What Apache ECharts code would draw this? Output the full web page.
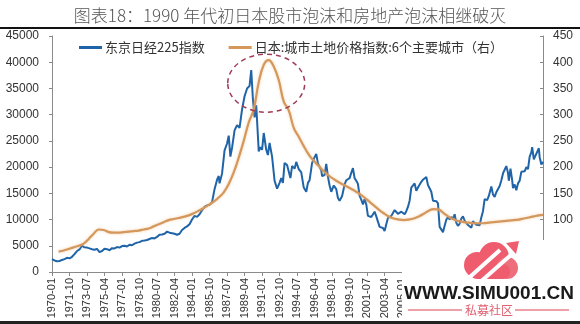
<!DOCTYPE html>
<html>
<head>
<meta charset="utf-8">
<script src="https://cdn.jsdelivr.net/npm/echarts@6/dist/echarts.min.js"></script>
<style>html,body{margin:0;padding:0;background:#fff;}#c{width:580px;height:324px;}</style>
</head>
<body>
<div id="c"></div>
<script>
const titleText = '图表18：1990 年代初日本股市泡沫和房地产泡沫相继破灭';
const seriesNames = ['东京日经225指数', '日本:城市土地价格指数:6个主要城市（右）'];
const leftTicks = { min: 0, max: 45000, interval: 5000 };
const rightTicks = { min: 0, max: 450, interval: 50, firstLabel: 100 };
const firstMonth = '1970-01', lastMonth = '2019-02';

const nikkeiDates = [
'1970-01','1970-04','1970-07','1970-10',
'1971-01','1971-04','1971-07','1971-10',
'1972-01','1972-04','1972-07','1972-10',
'1973-01','1973-04','1973-07','1973-10',
'1974-01','1974-04','1974-07','1974-10',
'1975-01','1975-04','1975-07','1975-10',
'1976-01','1976-04','1976-07','1976-10',
'1977-01','1977-04','1977-07','1977-10',
'1978-01','1978-04','1978-07','1978-10',
'1979-01','1979-04','1979-07','1979-10',
'1980-01','1980-04','1980-07','1980-10',
'1981-01','1981-04','1981-07','1981-10',
'1982-01','1982-04','1982-07','1982-10',
'1983-01','1983-04','1983-07','1983-10',
'1984-01','1984-04','1984-07','1984-10',
'1985-01','1985-04','1985-07','1985-10',
'1986-01','1986-04','1986-07','1986-09','1986-10',
'1987-01','1987-04','1987-07','1987-09','1987-11',
'1988-01','1988-04','1988-07','1988-10',
'1989-01','1989-04','1989-07','1989-10','1989-12',
'1990-02','1990-04','1990-06','1990-09','1990-11',
'1991-01','1991-03','1991-06','1991-08','1991-10',
'1992-01','1992-04','1992-07','1992-10','1992-12',
'1993-02','1993-04','1993-07','1993-09','1993-11',
'1994-01','1994-04','1994-06','1994-09','1994-12',
'1995-03','1995-06','1995-08','1995-10',
'1996-01','1996-04','1996-06','1996-08','1996-10','1996-12',
'1997-01','1997-04','1997-06','1997-08','1997-10','1997-12',
'1998-03','1998-06','1998-08','1998-10',
'1999-01','1999-04','1999-06','1999-08','1999-10','1999-12',
'2000-02','2000-04','2000-06','2000-08','2000-10','2000-12',
'2001-02','2001-04','2001-06','2001-08','2001-10','2001-12',
'2002-02','2002-04','2002-06','2002-08','2002-10','2002-12',
'2003-02','2003-04','2003-06','2003-08','2003-10','2003-12',
'2004-02','2004-04','2004-06','2004-08','2004-10','2004-12',
'2005-02','2005-04','2005-06','2005-08','2005-10','2005-12',
'2006-02','2006-04','2006-06','2006-08','2006-10','2006-12',
'2007-02','2007-04','2007-06','2007-08','2007-10','2007-12',
'2008-02','2008-04','2008-06','2008-08','2008-10','2008-12',
'2009-02','2009-04','2009-06','2009-08','2009-10','2009-12',
'2010-02','2010-04','2010-06','2010-08','2010-10','2010-12',
'2011-02','2011-04','2011-06','2011-08','2011-10','2011-12',
'2012-02','2012-04','2012-06','2012-08','2012-10','2012-12',
'2013-02','2013-04','2013-05','2013-07','2013-09','2013-12',
'2014-02','2014-04','2014-06','2014-08','2014-10','2014-12',
'2015-02','2015-04','2015-06','2015-08','2015-09','2015-11',
'2016-01','2016-02','2016-04','2016-06','2016-08','2016-10','2016-12',
'2017-02','2017-04','2017-06','2017-08','2017-10','2017-12',
'2018-01','2018-03','2018-05','2018-07','2018-09','2018-10','2018-12',
'2019-02'];
const nikkeiValues = [
2450,2200,2050,2100,
2300,2450,2700,2600,
2900,3400,4000,4300,
5000,4700,4650,4500,
4350,4250,4400,3800,
4000,4450,4350,4150,
4550,4500,4750,4650,
4950,5000,4850,5200,
5100,5400,5600,5700,
5950,6000,6100,6300,
6500,6400,6700,7100,
7150,7300,7700,7500,
7400,7300,7100,7300,
8000,8400,8700,9100,
10000,10700,10500,11000,
11800,12400,12700,12800,
13300,15800,17600,18300,16900,
18800,23200,24500,26000,22000,
23700,27000,28000,27500,
31000,33500,35000,35500,38500,
33000,29500,31800,23000,23800,
23300,26500,23300,22300,24600,
22000,17400,15900,17000,17900,
17000,20800,20400,20100,17900,
20200,19700,21000,19600,19000,
16100,15300,17000,17500,
20800,21900,22500,20700,20800,19400,
18300,18500,20600,18200,16500,15300,
16500,15800,14100,13600,
14500,16700,17500,17400,17900,18900,
19800,17900,17400,16800,14500,13800,
12900,13900,12900,10700,10400,10500,
10600,11500,10600,9600,8600,8600,
8400,7800,9100,10300,10600,10700,
11000,11800,11900,11100,10800,11500,
11700,11000,11600,12400,13600,16100,
16200,16900,15500,16100,16400,17200,
17600,17400,18100,16600,16700,15300,
13600,13800,13500,13100,8600,8900,
7600,8800,9950,10500,10000,10500,
10100,11000,9400,8800,9200,10200,
10600,9800,9800,8950,8990,8450,
9700,9500,9000,8800,8900,10400,
11600,13900,13800,13700,14500,16300,
14800,14300,15200,15400,16400,17450,
18800,19500,20200,18900,17400,19700,
17500,16000,16700,15600,16900,17400,19100,
19100,19200,20000,19600,22000,22800,
23800,21500,22200,22500,23600,21900,20500,
21000];

const landDates = [
'1970-09','1971-03','1971-09','1972-03','1972-09','1973-03','1973-09','1974-03','1974-09',
'1975-03','1975-09','1976-03','1976-09','1977-03','1977-09','1978-03','1978-09','1979-03','1979-09',
'1980-03','1980-09','1981-03','1981-09','1982-03','1982-09','1983-03','1983-09','1984-03','1984-09',
'1985-03','1985-09','1986-03','1986-09','1987-03','1987-09','1988-03','1988-09','1989-03','1989-09',
'1990-03','1990-09','1991-03','1991-09','1992-03','1992-09','1993-03','1993-09','1994-03','1994-09',
'1995-03','1995-09','1996-03','1996-09','1997-03','1997-09','1998-03','1998-09','1999-03','1999-09',
'2000-03','2000-09','2001-03','2001-09','2002-03','2002-09','2003-03','2003-09','2004-03','2004-09',
'2005-03','2005-09','2006-03','2006-09','2007-03','2007-09','2008-03','2008-09','2009-03','2009-09',
'2010-03','2010-09','2011-03','2011-09','2012-03','2012-09','2013-03','2013-09','2014-03','2014-09',
'2015-03','2015-09','2016-03','2016-09','2017-03','2017-09','2018-03','2018-09','2019-02'];
const landValues = [
39,41,44,47,50,54,63,73,81,
80,76,75,75,76,77,78,79,81,83,
87,91,95,99,101,103,105,108,112,117,
122,128,134,142,152,168,190,218,250,285,
310,362,395,404,392,366,325,308,275,258,
240,224,212,202,192,184,177,171,166,161,
156,150,143,135,127,119,112,106,102,100,
99,100,102,106,111,117,120,119,112,105,
100,97,95,94,93,93,93,94,95,96,
97,98,99,100,102,104,106,108,109];

// month categories (axis labels) from firstMonth to lastMonth
const months = [];
(function () {
  let y = +firstMonth.slice(0, 4), m = +firstMonth.slice(5);
  while (true) {
    const s = y + '-' + String(m).padStart(2, '0');
    months.push(s);
    if (s === lastMonth) break;
    m++; if (m > 12) { m = 1; y++; }
  }
})();

const FONT = 'Liberation Sans, Arial, sans-serif';
const CJK = 'Noto Sans CJK SC, sans-serif';
const axisGray = '#8a8a8a';

const chart = echarts.init(document.getElementById('c'), null, { renderer: 'canvas' });
chart.setOption({
  animation: false,
  backgroundColor: '#fff',
  title: {
    text: titleText, left: 'center', top: 2,
    textStyle: { fontFamily: CJK, fontSize: 17, fontWeight: 300, color: '#555' }
  },
  legend: {
    top: 36, left: 74, itemGap: 24, itemWidth: 23, itemHeight: 3, icon: 'rect',
    textStyle: { fontFamily: CJK, fontSize: 13, color: '#333', padding: [0, 0, 0, -2] },
    data: seriesNames
  },
  grid: { left: 52, right: 37, top: 36, bottom: 52, containLabel: false },
  xAxis: {
    type: 'category', data: months, boundaryGap: false,
    axisLine: { lineStyle: { color: axisGray, width: 1 } },
    axisTick: { interval: 20, length: 4, lineStyle: { color: axisGray } },
    axisLabel: { interval: 20, rotate: 90, fontFamily: FONT, fontSize: 11, color: '#333', margin: 6 },
    splitLine: { show: false }
  },
  yAxis: [{
    type: 'value', min: leftTicks.min, max: leftTicks.max, interval: leftTicks.interval,
    axisLine: { show: true, lineStyle: { color: axisGray } },
    axisTick: { show: true, length: 3, lineStyle: { color: axisGray } },
    axisLabel: { fontFamily: FONT, fontSize: 12, color: '#333', margin: 13, formatter: v => String(v) },
    splitLine: { show: false }
  }, {
    type: 'value', position: 'right', min: rightTicks.min, max: rightTicks.max, interval: rightTicks.interval,
    axisLine: { show: true, lineStyle: { color: axisGray } },
    axisTick: { show: true, inside: true, length: 3, lineStyle: { color: axisGray } },
    axisLabel: {
      fontFamily: FONT, fontSize: 12, color: '#333', margin: 10,
      formatter: v => (v >= rightTicks.firstLabel ? String(v) : '')
    },
    splitLine: { show: false }
  }],
  series: [{
    name: seriesNames[0], type: 'line', yAxisIndex: 0, showSymbol: false, symbol: 'none',
    lineStyle: { color: '#1f64a8', width: 2 }, itemStyle: { color: '#1f64a8' },
    data: nikkeiDates.map((d, i) => [d, nikkeiValues[i]])
  }, {
    name: seriesNames[1], type: 'line', yAxisIndex: 1, showSymbol: false, symbol: 'none',
    smooth: 0.4,
    lineStyle: { color: '#d4975c', width: 2.2, shadowBlur: 3, shadowColor: 'rgba(235,180,120,0.6)' },
    itemStyle: { color: '#d4975c' },
    data: landDates.map((d, i) => [d, landValues[i]])
  }]
});

// annotation ellipse around the twin peaks, placed through the axes
const ctr = chart.convertToPixel({ xAxisIndex: 0, yAxisIndex: 0 }, ['1991-06', 36000]);

chart.setOption({
  graphic: [
    { type: 'rect', shape: { x: 0, y: 27, width: 580, height: 2 }, style: { fill: '#111' }, z: 10 },
    { type: 'ellipse', shape: { cx: ctr[0], cy: ctr[1], rx: 38.5, ry: 29 },
      style: { fill: 'none', stroke: '#a03a55', lineWidth: 1.5, lineDash: [5, 4] }, z: 10 },
    // watermark block
    { type: 'rect', shape: { x: 402, y: 240, width: 178, height: 82 }, style: { fill: '#fff' }, z: 20 },
    { type: 'rect', shape: { x: 0, y: 321, width: 580, height: 3 }, style: { fill: '#222' }, z: 21 },
    { type: 'circle', shape: { cx: 477, cy: 265, r: 13 }, style: { fill: '#ef5c6e' }, z: 22 },
    { type: 'circle', shape: { cx: 494, cy: 257, r: 15 }, style: { fill: '#ef5c6e' }, z: 22 },
    { type: 'circle', shape: { cx: 507, cy: 268, r: 11 }, style: { fill: '#ee6f7c' }, z: 22 },
    { type: 'rect', shape: { x: 470, y: 264, width: 40, height: 15, r: 7 }, style: { fill: '#ef5c6e' }, z: 22 },
    { type: 'line', shape: { x1: 462, y1: 284, x2: 500, y2: 250 }, style: { stroke: '#fff', lineWidth: 4 }, z: 23 },
    { type: 'line', shape: { x1: 478, y1: 284, x2: 512, y2: 254 }, style: { stroke: '#fff', lineWidth: 4 }, z: 23 },
    { type: 'polygon', shape: { points: [[506, 243], [519, 241], [516, 254]] }, style: { fill: '#ef5c6e' }, z: 23 },
    { type: 'text', x: 489, y: 294, style: { text: 'WWW.SIMU001.CN', fontFamily: FONT, fontWeight: 'bold', fontSize: 19, fill: '#1a1a1a', align: 'center', verticalAlign: 'middle' }, z: 24 },
    { type: 'line', shape: { x1: 408, y1: 310, x2: 462, y2: 310 }, style: { stroke: '#e8808d', lineWidth: 1.5 }, z: 24 },
    { type: 'line', shape: { x1: 515, y1: 310, x2: 569, y2: 310 }, style: { stroke: '#e8808d', lineWidth: 1.5 }, z: 24 },
    { type: 'text', x: 489, y: 310, style: { text: '私募社区', fontFamily: CJK, fontSize: 12, fill: '#e0606f', align: 'center', verticalAlign: 'middle' }, z: 24 }
  ]
});
</script>
</body>
</html>
